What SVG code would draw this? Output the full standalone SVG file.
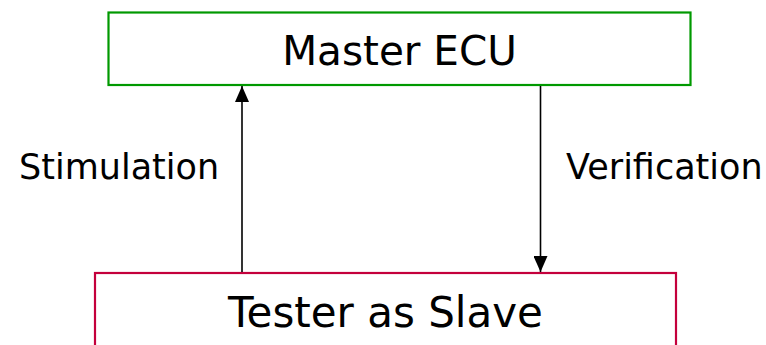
<svg xmlns="http://www.w3.org/2000/svg" width="766" height="345" viewBox="0 0 766 345">
  <style>
    .lbl { font-family: "DejaVu Sans", Verdana, sans-serif; fill: #000; }
    .conn { stroke: #000; stroke-width: 1.6; fill: none; }
  </style>
  <defs>
    <marker id="arrow" viewBox="0 0 16 14" refX="16" refY="7" markerWidth="16" markerHeight="14" markerUnits="userSpaceOnUse" orient="auto">
      <path d="M0,0 L16,7 L0,14 Z" fill="#000"/>
    </marker>
  </defs>
  <rect width="766" height="345" fill="#fff"/>
  <g id="node-master">
    <rect x="108.5" y="12.5" width="582" height="72.5" fill="#fff" stroke="#009900" stroke-width="2.2"/>
    <text class="lbl" x="399.5" y="65" font-size="40.5" text-anchor="middle">Master ECU</text>
  </g>
  <g id="node-tester">
    <rect x="95" y="273" width="581" height="90" fill="#fff" stroke="#C4003C" stroke-width="2.2"/>
    <text class="lbl" x="385.5" y="326.5" font-size="42" text-anchor="middle">Tester as Slave</text>
  </g>
  <g id="connectors">
    <line class="conn" x1="242" y1="272" x2="242" y2="86" marker-end="url(#arrow)"/>
    <line class="conn" x1="540.5" y1="86" x2="540.5" y2="272" marker-end="url(#arrow)"/>
    <text class="lbl" x="19" y="179" font-size="35">Stimulation</text>
    <text class="lbl" x="566" y="179" font-size="35">Verification</text>
  </g>
</svg>
